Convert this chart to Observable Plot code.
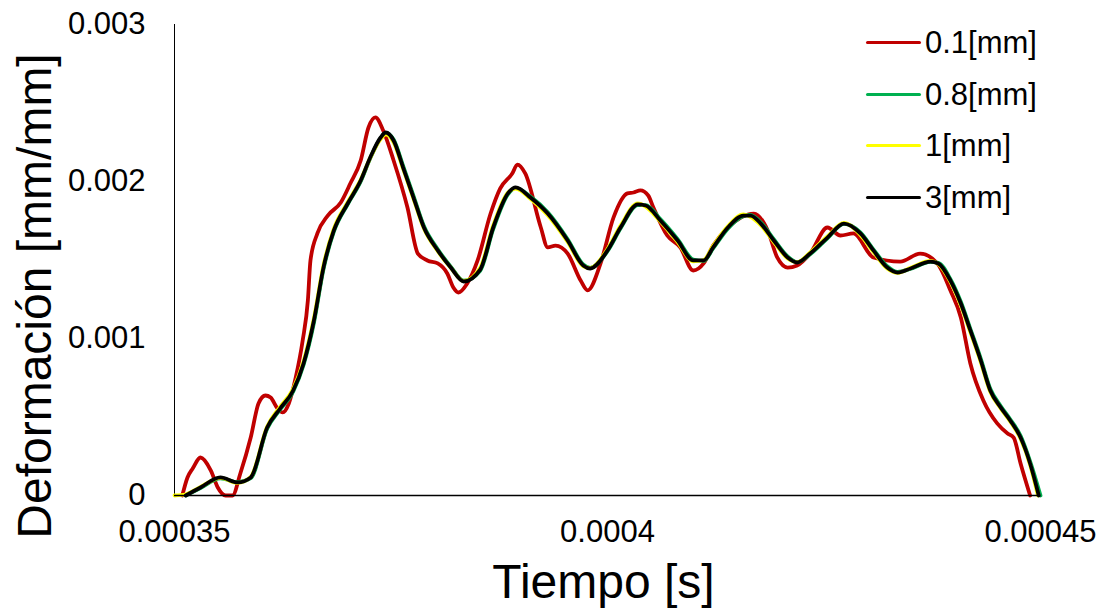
<!DOCTYPE html>
<html>
<head>
<meta charset="utf-8">
<script src="https://cdn.jsdelivr.net/npm/d3@7"></script>
<script src="https://cdn.jsdelivr.net/npm/@observablehq/plot@0.6"></script>
<style>
  html, body { margin: 0; padding: 0; background: #fff; }
  #wrap { position: relative; width: 1103px; height: 610px; font-family: "Liberation Sans", Arial, sans-serif; }
  #legend { position: absolute; left: 866px; top: 17px; }
  .row { display: flex; align-items: center; height: 51.5px; }
  .sw { width: 55px; height: 3px; border-radius: 2px; margin-right: 4px; }
  .lab { font-size: 31px; color: #000; line-height: 1; }
</style>
</head>
<body>
<div id="wrap"><div id="chart"></div><div id="legend"></div></div>
<script>
// Tiempo en microsegundos (eje en segundos), deformación en 1e-3 mm/mm
const xTicks = [350, 400, 450];
const xTickLabels = ["0.00035", "0.0004", "0.00045"];
const yTicks = [0, 1, 2, 3];
const yTickLabels = ["0", "0.001", "0.002", "0.003"];

const seriesNames = ["0.1[mm]", "0.8[mm]", "1[mm]", "3[mm]"];
const seriesColors = ["#C00000", "#00B050", "#FFFF00", "#000000"];

const tiempo01 = [350.9,351.5,352.1,353.0,354.2,355.0,355.9,356.7,357.6,358.8,359.7,360.5,361.1,361.9,362.5,363.2,364.0,364.8,365.4,365.7,366.5,367.7,369.2,370.3,371.5,372.4,373.2,374.1,375.3,376.9,378.1,379.2,380.4,381.5,382.2,382.8,383.8,385.0,386.5,387.6,389.0,389.6,390.5,392.3,393.1,394.0,395.4,396.9,397.7,399.2,400.7,402.3,403.0,403.8,404.7,405.3,406.9,408.4,409.9,411.1,412.2,413.9,415.4,416.9,418.5,419.6,420.8,421.9,423.4,425.4,426.9,428.4,430.7,433.8,436.1,438.1,439.6,440.8,441.9,443.4,445.0,446.2,446.9,447.7,448.8];
const def01 = [0,0.115,0.172,0.242,0.159,0.051,0,0,0.140,0.369,0.586,0.637,0.624,0.554,0.529,0.586,0.752,0.987,1.242,1.497,1.669,1.783,1.866,1.987,2.134,2.344,2.408,2.325,2.134,1.834,1.541,1.497,1.478,1.414,1.325,1.293,1.350,1.497,1.796,1.955,2.051,2.108,2.051,1.707,1.580,1.592,1.541,1.369,1.306,1.478,1.771,1.924,1.930,1.943,1.911,1.834,1.656,1.580,1.433,1.478,1.592,1.707,1.771,1.796,1.688,1.516,1.452,1.465,1.541,1.707,1.656,1.669,1.516,1.490,1.541,1.478,1.306,1.134,0.841,0.605,0.459,0.395,0.369,0.204,0];

const tiempo08 = [351.3,353.0,355.3,357.3,358.8,360.7,362.2,363.7,364.9,366.1,367.2,368.4,370.0,371.5,372.6,373.8,374.4,375.3,376.4,377.6,378.8,380.4,381.9,383.4,385.3,386.8,388.5,389.4,391.1,393.1,395.4,397.2,398.0,400.0,401.5,403.5,404.4,406.1,408.1,409.9,411.1,412.2,413.9,415.7,416.5,417.7,419.2,420.8,421.9,423.4,425.4,427.3,429.2,430.7,432.3,433.5,435.0,437.3,438.2,439.6,440.8,441.9,443.1,444.2,445.4,446.5,447.7,448.8,450.0];
const def08 = [0,0.048,0.110,0.085,0.110,0.425,0.548,0.662,0.832,1.100,1.440,1.680,1.855,2.000,2.148,2.276,2.310,2.268,2.100,1.908,1.716,1.568,1.458,1.368,1.432,1.696,1.918,1.960,1.904,1.804,1.632,1.472,1.450,1.556,1.700,1.850,1.850,1.760,1.632,1.503,1.494,1.574,1.700,1.780,1.788,1.740,1.632,1.522,1.486,1.536,1.638,1.730,1.676,1.568,1.460,1.424,1.444,1.488,1.482,1.378,1.234,1.062,0.872,0.680,0.570,0.486,0.380,0.218,0];

const tiempo1 = [350.0,351.3,353.0,355.3,357.3,358.8,360.7,362.2,363.7,364.9,366.1,367.2,368.4,370.0,371.5,372.6,373.8,374.4,375.3,376.4,377.6,378.8,380.4,381.9,383.4,385.3,386.8,388.5,389.4,391.1,393.1,395.4,397.2,398.0,400.0,401.5,403.5,404.4,406.1,408.1,409.9,411.1,412.2,413.9,415.7,416.5,417.7,419.2,420.8,421.9,423.4,425.4,427.3,429.2,430.7,432.3,433.5,435.0,437.3,438.2,439.6,440.8,441.9,443.1,444.2,445.4,446.5,447.7,448.8,449.7];
const def1 = [0,0.008,0.055,0.112,0.080,0.118,0.440,0.565,0.680,0.855,1.130,1.465,1.700,1.868,2.012,2.150,2.270,2.300,2.250,2.080,1.890,1.700,1.556,1.450,1.365,1.450,1.720,1.930,1.955,1.890,1.785,1.615,1.460,1.448,1.570,1.718,1.860,1.840,1.745,1.615,1.492,1.500,1.590,1.715,1.790,1.775,1.722,1.615,1.510,1.486,1.548,1.650,1.736,1.660,1.552,1.446,1.418,1.450,1.494,1.474,1.360,1.212,1.040,0.850,0.660,0.555,0.472,0.362,0.195,0];

const tiempo3 = [351.3,353.0,355.3,357.3,358.8,360.7,362.2,363.7,364.9,366.1,367.2,368.4,370.0,371.5,372.6,373.8,374.4,375.3,376.4,377.6,378.8,380.4,381.9,383.4,385.3,386.8,388.5,389.4,391.1,393.1,395.4,397.2,398.0,400.0,401.5,403.5,404.4,406.1,408.1,409.9,411.1,412.2,413.9,415.7,416.5,417.7,419.2,420.8,421.9,423.4,425.4,427.3,429.2,430.7,432.3,433.5,435.0,437.3,438.2,439.6,440.8,441.9,443.1,444.2,445.4,446.5,447.7,448.8,449.8];
const def3 = [0,0.051,0.115,0.083,0.115,0.433,0.554,0.669,0.841,1.115,1.452,1.688,1.860,2.006,2.153,2.280,2.312,2.261,2.089,1.898,1.707,1.561,1.452,1.363,1.439,1.707,1.924,1.962,1.898,1.796,1.624,1.465,1.446,1.561,1.707,1.854,1.847,1.752,1.624,1.497,1.497,1.580,1.707,1.783,1.783,1.732,1.624,1.516,1.484,1.541,1.643,1.732,1.669,1.561,1.452,1.420,1.446,1.490,1.478,1.369,1.223,1.051,0.860,0.669,0.561,0.478,0.369,0.204,0];

const seriesX = [tiempo01, tiempo08, tiempo1, tiempo3];
const seriesY = [def01, def08, def1, def3];

const rows = [];
seriesNames.forEach((name, s) => {
  seriesX[s].forEach((t, i) => rows.push({serie: name, t, v: seriesY[s][i]}));
});

const font = "'Liberation Sans', Arial, sans-serif";
const chart = Plot.plot({
  width: 1103,
  height: 610,
  marginLeft: 174,
  marginRight: 63,
  marginTop: 24,
  marginBottom: 115,
  style: { fontFamily: font, background: "#fff", color: "#000" },
  x: { domain: [350, 450] },
  y: { domain: [0, 3] },
  color: { domain: seriesNames, range: seriesColors },
  marks: [
    Plot.ruleX([350], { stroke: "#000", strokeWidth: 1 }),
    Plot.axisY({ ticks: yTicks, tickFormat: (d, i) => yTickLabels[i], tickSize: 0, tickPadding: 29, fontSize: 31, label: null }),
    Plot.axisX({ ticks: xTicks, tickFormat: (d, i) => xTickLabels[i], tickSize: 0, tickPadding: 24, fontSize: 31, label: null }),
    Plot.text(["Deformación [mm/mm]"], { frameAnchor: "left", textAnchor: "middle", lineAnchor: "middle", rotate: -90, dx: -139, dy: 36, fontSize: 48, fill: "#000" }),
    Plot.text(["Tiempo [s]"], { frameAnchor: "bottom", textAnchor: "middle", lineAnchor: "middle", dx: -4, dy: 87, fontSize: 48, fill: "#000" }),
    Plot.line(rows, { x: "t", y: "v", z: "serie", stroke: "serie", strokeWidth: 3.8, curve: "monotone-x" }),
    Plot.ruleY([0], { stroke: "#000", strokeWidth: 1.5 })
  ]
});
document.getElementById("chart").appendChild(chart);

const legend = document.getElementById("legend");
seriesNames.forEach((name, i) => {
  const row = document.createElement("div");
  row.className = "row";
  const sw = document.createElement("div");
  sw.className = "sw";
  sw.style.background = seriesColors[i];
  const lab = document.createElement("span");
  lab.className = "lab";
  lab.textContent = name;
  row.appendChild(sw);
  row.appendChild(lab);
  legend.appendChild(row);
});
</script>
</body>
</html>
